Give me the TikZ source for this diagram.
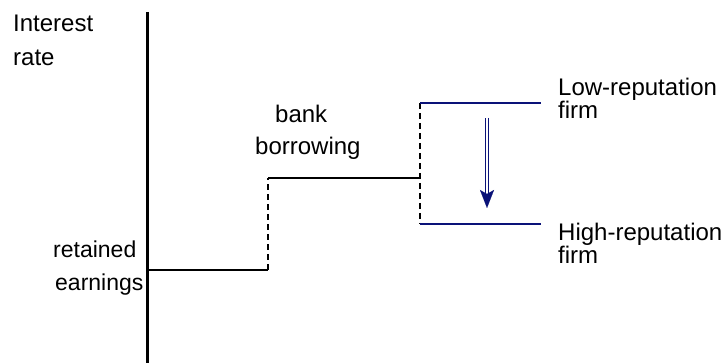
\documentclass[tikz,border=0pt]{standalone}
\usepackage{fontspec}
\setmainfont{Liberation Sans}
\usetikzlibrary{arrows.meta}
\definecolor{rateblue}{RGB}{10,18,120}
\begin{document}
\begin{tikzpicture}[x=1pt,y=-1pt,
  lbl/.style={anchor=base west,inner sep=0pt,font=\fontsize{24}{24}\selectfont},
  sidelbl/.style={lbl,font=\fontsize{23}{23}\selectfont},
  firmlbl/.style={lbl,align=left,font=\fontsize{24}{19.5}\selectfont},
  axisline/.style={line width=3pt},
  stepline/.style={line width=2.4pt},
  jumpline/.style={line width=1.6pt,dash pattern=on 6pt off 4pt},
  rateline/.style={line width=2.8pt,color=rateblue},
  shaft/.style={rateblue,line width=1.2pt,double=white,double distance=1.5pt},
  tip/.style={rateblue,line width=0.1pt,-{Stealth[length=18pt,width=14pt,inset=4pt]}}]
\useasboundingbox (0,0) rectangle (726,363);

% axis
\coordinate (axTop) at (147,12);
\coordinate (axBot) at (147,363);
\draw[axisline] (axTop) -- (axBot);

% supply steps
\coordinate (re0) at (147,270);
\coordinate (re1) at (268,270);
\coordinate (bb0) at (268,178);
\coordinate (bb1) at (420,178);
\coordinate (lo0) at (420,103);
\coordinate (lo1) at (541,103);
\coordinate (hi0) at (420,224);
\coordinate (hi1) at (541,224);
\draw[stepline] (re0) -- (re1);
\draw[jumpline] (re1) -- (bb0);
\draw[stepline] (bb0) -- (bb1);
\draw[jumpline] (lo0) -- (hi0);
\draw[rateline] (lo0) -- (lo1);
\draw[rateline] (hi0) -- (hi1);

% shift from low to high reputation
\coordinate (arS) at (487,118);
\coordinate (arM) at (487,195);
\coordinate (arE) at (487,208);
\draw[shaft] (arS) -- (arM);
\draw[tip] ([yshift=-3pt]arM) -- (arE);

% labels (two-line labels are placed by the baseline of their last line)
\node[lbl] (tInt) at (13,32) {Interest};
\node[lbl] (tRate) at (13,66) {rate};
\node[lbl] (tBank) at (275,123) {bank};
\node[lbl] (tBorr) at (255,155) {borrowing};
\node[sidelbl] (tRet) at (53,258) {retained};
\node[sidelbl] (tEarn) at (55,291) {earnings};
\node[firmlbl] (tLow) at (558,118.5) {Low-reputation\\firm};
\node[firmlbl] (tHigh) at (558,264) {High-reputation\\firm};
\end{tikzpicture}
\end{document}
